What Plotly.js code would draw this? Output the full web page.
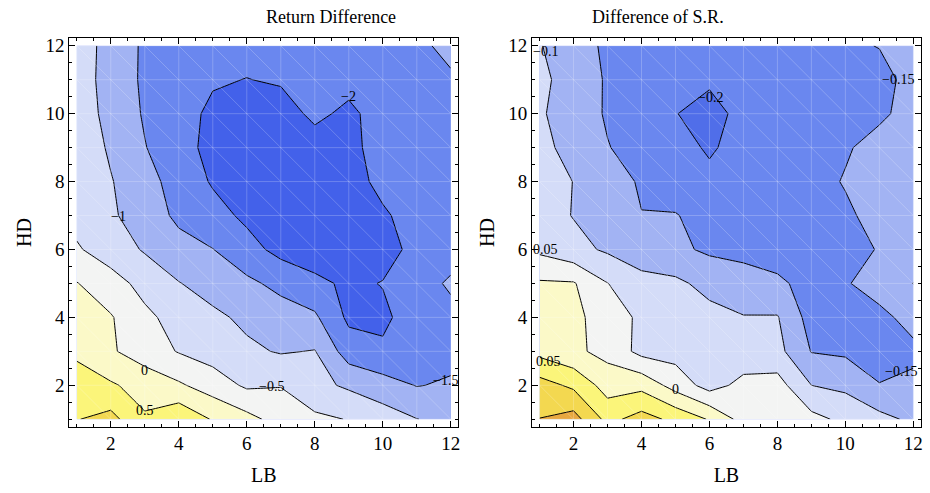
<!DOCTYPE html>
<html><head><meta charset="utf-8">
<script src="https://cdn.plot.ly/plotly-3.0.1.min.js"></script>
<style>html,body{margin:0;padding:0;background:#fff}#chart{width:930px;height:493px}</style>
</head><body><div id="chart"></div>
<script>
// LB values (x) and HD values (y)
const lb = [1,2,3,4,5,6,7,8,9,10,11,12];
const hd = [1,2,3,4,5,6,7,8,9,10,11,12];

// Return Difference: rows = HD 1..12, columns = LB 1..12
const returnDiff = [
  [0.98, 1.16, 0.56, 0.9, 0.46, 0.16, -0.2, -0.4, -0.52, -0.75, -0.99, -1.15],
  [0.72, 0.56, 0.31, 0.07, -0.24, -0.58, -0.52, -0.86, -1.08, -1.3, -1.52, -1.44],
  [0.41, 0.06, -0.25, -0.53, -0.72, -0.91, -1.04, -0.98, -1.75, -1.92, -1.8, -1.65],
  [0.21, 0.04, -0.4, -0.67, -0.9, -1.1, -1.28, -1.42, -2.1, -2.1, -1.75, -1.6],
  [0.02, -0.31, -0.65, -0.98, -1.2, -1.4, -1.63, -1.87, -2.1, -1.98, -1.65, -1.45],
  [-0.45, -0.73, -1.05, -1.33, -1.49, -1.82, -2.15, -2.3, -2.35, -2.2, -1.85, -1.65],
  [-0.65, -0.93, -1.24, -1.6, -1.82, -2.1, -2.35, -2.4, -2.3, -2.05, -1.85, -1.7],
  [-0.61, -0.97, -1.33, -1.69, -2.05, -2.3, -2.4, -2.35, -2.15, -1.9, -1.75, -1.65],
  [-0.66, -1.07, -1.48, -1.81, -2.15, -2.3, -2.35, -2.2, -2.1, -1.85, -1.72, -1.65],
  [-0.74, -1.15, -1.55, -1.81, -2.1, -2.2, -2.2, -1.9, -2.1, -1.8, -1.72, -1.65],
  [-0.75, -1.2, -1.58, -1.75, -1.95, -2.01, -1.95, -1.9, -1.85, -1.78, -1.7, -1.55],
  [-0.76, -1.17, -1.58, -1.72, -1.8, -1.85, -1.85, -1.82, -1.75, -1.7, -1.58, -1.4]
];

// Difference of S.R.: rows = HD 1..12, columns = LB 1..12
const srDiff = [
  [0.151, 0.17, 0.085, 0.12, 0.087, 0.046, -0.019, -0.03, -0.035, -0.062, -0.085, -0.11],
  [0.12, 0.09, 0.0285, 0.035, -0.02, -0.07, -0.035, -0.03, -0.1, -0.111, -0.149, -0.145],
  [0.035, 0.01, -0.015, -0.065, -0.069, -0.074, -0.082, -0.085, -0.152, -0.158, -0.162, -0.155],
  [0.02, 0.012, -0.023, -0.06, -0.07, -0.085, -0.098, -0.097, -0.17, -0.165, -0.156, -0.142],
  [0.006, 0.004, -0.049, -0.085, -0.09, -0.115, -0.127, -0.142, -0.165, -0.152, -0.14, -0.099],
  [-0.06, -0.085, -0.107, -0.125, -0.14, -0.158, -0.165, -0.17, -0.17, -0.162, -0.148, -0.135],
  [-0.079, -0.102, -0.125, -0.149, -0.148, -0.165, -0.175, -0.175, -0.165, -0.155, -0.14, -0.13],
  [-0.073, -0.101, -0.13, -0.155, -0.17, -0.19, -0.18, -0.17, -0.16, -0.148, -0.135, -0.125],
  [-0.086, -0.117, -0.148, -0.168, -0.185, -0.205, -0.185, -0.175, -0.165, -0.153, -0.14, -0.135],
  [-0.094, -0.124, -0.155, -0.175, -0.199, -0.212, -0.19, -0.18, -0.17, -0.165, -0.155, -0.14],
  [-0.088, -0.122, -0.155, -0.17, -0.185, -0.195, -0.19, -0.18, -0.175, -0.168, -0.16, -0.14],
  [-0.097, -0.13, -0.158, -0.165, -0.17, -0.175, -0.175, -0.17, -0.165, -0.155, -0.149, -0.14]
];

// contour levels
const returnLevels = {start: -2, end: 1, size: 0.5};
const srLevels = {start: -0.2, end: 0.15, size: 0.05};

// band colours, lowest band first
const returnColors = ['#4361ea','#6a87ef','#a2b3f3','#d4dcf8','#f3f4f3','#fbf9c8','#fbf57a','#f3d850'];
const srColors = ['#506ee9','#6a87ef','#a2b3f3','#d4dcf8','#f3f4f3','#fbf9c8','#fbf57a','#f3d850','#e8a840'];

// contour labels
const returnLabels = [
  {t:'\u22122', x:9.0, y:10.5}, {t:'\u22121', x:2.24, y:6.98}, {t:'0', x:3.0, y:2.44},
  {t:'0.5', x:3.0, y:1.25}, {t:'\u22120.5', x:6.74, y:1.95}, {t:'\u22121.5', x:11.85, y:2.13}
];
const srLabels = [
  {t:'\u22120.1', x:1.16, y:11.84}, {t:'\u22120.2', x:6.04, y:10.49}, {t:'\u22120.15', x:11.56, y:11.0},
  {t:'0.05', x:1.16, y:5.99}, {t:'0.05', x:1.25, y:2.71}, {t:'0', x:4.99, y:1.88},
  {t:'\u22120.15', x:11.65, y:2.4}
];

const serif = 'Liberation Serif, Times New Roman, serif';
const scale = cols => cols.map((c, i) => [i / (cols.length - 1), c]);

function contourTrace(z, lv, cols, xa, ya) {
  return {
    type: 'contour', x: lb, y: hd, z: z, xaxis: xa, yaxis: ya,
    autocontour: false,
    contours: {start: lv.start, end: lv.end, size: lv.size, coloring: 'fill', showlines: true},
    line: {color: '#000', width: 1, smoothing: 0},
    colorscale: scale(cols), showscale: false, hoverinfo: 'skip'
  };
}

const data = [
  contourTrace(returnDiff, returnLevels, returnColors, 'x', 'y'),
  contourTrace(srDiff, srLevels, srColors, 'x2', 'y2')
];

// faint mesh lines (grid + triangle diagonals) drawn over the fill
const shapes = [];
const meshLine = {color: 'rgba(255,255,255,0.22)', width: 1};
[['x','y'],['x2','y2']].forEach(([xr, yr]) => {
  const x0 = lb[0], x1 = lb[lb.length-1], y0 = hd[0], y1 = hd[hd.length-1];
  lb.forEach(v => shapes.push({type:'line', xref:xr, yref:yr, x0:v, x1:v, y0:y0, y1:y1, line:meshLine, layer:'above'}));
  hd.forEach(v => shapes.push({type:'line', xref:xr, yref:yr, x0:x0, x1:x1, y0:v, y1:v, line:meshLine, layer:'above'}));
  for (let k = x0 + y0 + 1; k < x1 + y1; k++) {
    const ax = Math.max(x0, k - y1), bx = Math.min(x1, k - y0);
    shapes.push({type:'line', xref:xr, yref:yr, x0:ax, y0:k-ax, x1:bx, y1:k-bx, line:meshLine, layer:'above'});
  }
});

const annotations = [];
const lblFont = {family: serif, size: 14, color: '#000'};
returnLabels.forEach(l => annotations.push({xref:'x', yref:'y', x:l.x, y:l.y, text:l.t, showarrow:false, font:lblFont}));
srLabels.forEach(l => annotations.push({xref:'x2', yref:'y2', x:l.x, y:l.y, text:l.t, showarrow:false, font:lblFont}));
annotations.push({xref:'paper', yref:'paper', x:(69.3+458.3)/2/930, y:1-17/493, yanchor:'middle', text:'Return Difference', showarrow:false, font:{family:serif, size:18, color:'#000'}});
annotations.push({xref:'paper', yref:'paper', x:(532.1+920.8)/2/930, y:1-17/493, yanchor:'middle', text:'Difference of S.R.', showarrow:false, font:{family:serif, size:18, color:'#000'}});

function xAxis(dom, anchor) {
  return {
    domain: dom, anchor: anchor, range: [0.78, 12.22],
    tickmode: 'linear', tick0: 0, dtick: 2, ticks: 'inside', ticklen: 6, tickcolor: '#000',
    minor: {tickmode: 'linear', tick0: 0, dtick: 0.5, ticks: 'inside', ticklen: 3, tickcolor: '#000', showgrid: false},
    showline: true, mirror: 'allticks', linecolor: '#000', linewidth: 1,
    showgrid: false, zeroline: false,
    tickfont: {family: serif, size: 19, color: '#000'},
    title: {text: 'LB', font: {family: serif, size: 20, color: '#000'}, standoff: 14}
  };
}
function yAxis(anchor) {
  return {
    domain: [0.1345, 0.9223], anchor: anchor, range: [0.78, 12.22],
    tickmode: 'linear', tick0: 0, dtick: 2, ticks: 'inside', ticklen: 6, tickcolor: '#000',
    minor: {tickmode: 'linear', tick0: 0, dtick: 0.5, ticks: 'inside', ticklen: 3, tickcolor: '#000', showgrid: false},
    showline: true, mirror: 'allticks', linecolor: '#000', linewidth: 1,
    showgrid: false, zeroline: false,
    tickfont: {family: serif, size: 19, color: '#000'},
    title: {text: 'HD', font: {family: serif, size: 20, color: '#000'}, standoff: 8}
  };
}

const layout = {
  width: 930, height: 493,
  margin: {l: 0, r: 0, t: 0, b: 0},
  paper_bgcolor: '#fff', plot_bgcolor: '#fff',
  showlegend: false,
  xaxis: xAxis([69.3/930, 458.3/930], 'y'),
  yaxis: yAxis('x'),
  xaxis2: xAxis([532.1/930, 920.8/930], 'y2'),
  yaxis2: yAxis('x2'),
  shapes: shapes,
  annotations: annotations
};

Plotly.newPlot('chart', data, layout, {staticPlot: true});
</script>
</body></html>
